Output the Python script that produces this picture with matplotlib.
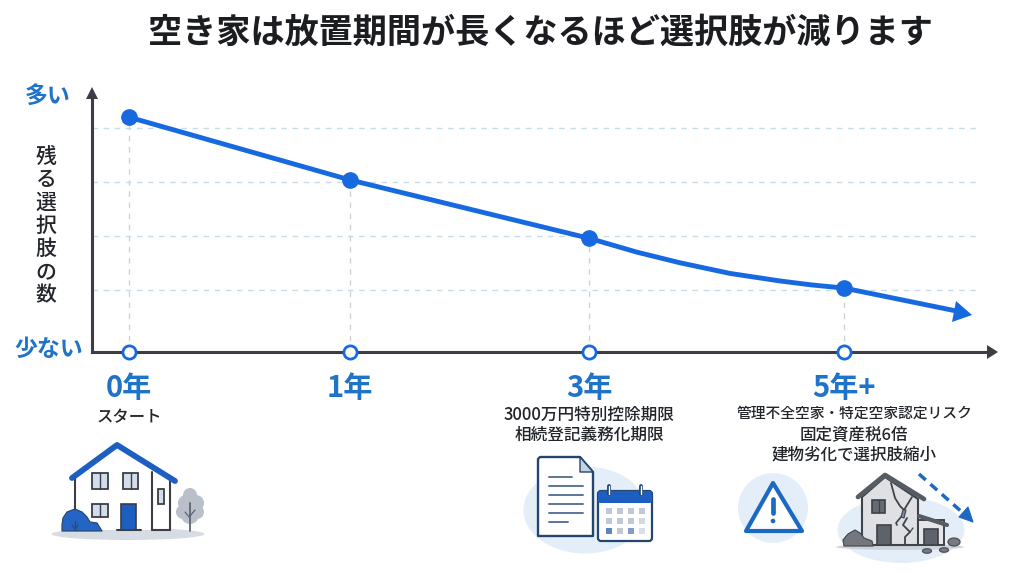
import matplotlib
matplotlib.use("Agg")
import matplotlib.pyplot as plt
from matplotlib.patches import Polygon, Rectangle, Circle, Ellipse, FancyBboxPatch

plt.rcParams['font.family'] = ['Noto Sans CJK JP', 'DejaVu Sans']

# ---------- data ----------
title = "空き家は放置期間が長くなるほど選択肢が減ります"
y_label = "残る選択肢の数"
y_high = "多い"
y_low = "少ない"
tick_labels = ["0年", "1年", "3年", "5年+"]
tick_notes = [["スタート"],
              ["3000万円特別控除期限", "相続登記義務化期限"],
              ["管理不全空家・特定空家認定リスク", "固定資産税6倍", "建物劣化で選択肢縮小"]]
note_ticks = [0, 2, 3]
stage_pos = [37, 258, 497, 752]
stage_val = [99.5, 72.9, 48.2, 27.1]
curve_pos = [37, 258, 497, 545, 588, 638, 688, 720, 752, 863]
curve_val = [99.5, 72.9, 48.2, 42.3, 37.8, 33.3, 30.1, 28.4, 27.1, 17.5]
grid_val = [26.3, 49.2, 72.0, 94.9]

BLUE = "#1769e0"
LBLUE = "#1f73c9"
DARK = "#3b3e44"
INK = "#22252a"
PALE = "#e4eef8"
NAVY = "#2b4a6f"

fig = plt.figure(figsize=(10.24, 5.79), dpi=100, facecolor="white")
W, H = 1024, 579

# ---------- chart axes ----------
ax = fig.add_axes([92/W, 1-352/H, 898/W, 257/H], facecolor="none")
ax.set_xlim(0, 898)
ax.set_ylim(0, 257/2.36)
for s in ("top", "right"):
    ax.spines[s].set_visible(False)
for s in ("left", "bottom"):
    ax.spines[s].set_color(DARK)
    ax.spines[s].set_linewidth(2.2)
ax.set_yticks([])
ax.set_xticks(stage_pos, tick_labels, color=LBLUE, fontsize=21, fontweight="bold")
ax.tick_params(axis="x", length=0, pad=15)

ax.hlines(grid_val, 0, 888, color="#c6dcea", lw=1.0, linestyles=(0, (4, 4)), zorder=1)
ax.vlines(stage_pos, 0, stage_val, color="#cfd3d8", lw=1.0, linestyles=(0, (4, 4)), zorder=1)
ax.plot(curve_pos, curve_val, color=BLUE, lw=3.5, solid_capstyle="butt", solid_joinstyle="round", zorder=3)
ax.plot(stage_pos, stage_val, "o", color=BLUE, ms=11, zorder=4)
ax.plot(stage_pos, [0]*4, "o", mfc="white", mec=BLUE, mew=2, ms=9.5, zorder=4, clip_on=False)

# ---------- overlay in picture units for arrows, text and icons ----------
ov = fig.add_axes([0, 0, 1, 1], facecolor="none")
ov.set_xlim(0, W)
ov.set_ylim(H, 0)
ov.axis("off")

def poly(pts, fc="none", ec="none", lw=0, z=5, **k):
    ov.add_patch(Polygon(pts, closed=True, fc=fc, ec=ec, lw=lw, zorder=z, joinstyle="round", **k))

def rect(x0, y0, x1, y1, fc="none", ec="none", lw=0, z=5):
    ov.add_patch(Rectangle((x0, y0), x1-x0, y1-y0, fc=fc, ec=ec, lw=lw, zorder=z))

def rrect(x0, y0, x1, y1, r=2, fc="none", ec="none", lw=0, z=5):
    ov.add_patch(FancyBboxPatch((x0+r, y0+r), x1-x0-2*r, y1-y0-2*r, boxstyle=f"round,pad={r}",
                                fc=fc, ec=ec, lw=lw, zorder=z))

def line(xs, ys, c, lw, z=6, **k):
    ov.plot(xs, ys, color=c, lw=lw, zorder=z, solid_capstyle=k.pop("cap", "round"), **k)

def circ(x, y, r, fc, ec="none", lw=0, z=5):
    ov.add_patch(Circle((x, y), r, fc=fc, ec=ec, lw=lw, zorder=z))

# axis and curve arrow heads
poly([(92, 87), (86, 99), (98, 99)], fc=DARK)
poly([(998, 352), (987, 345), (987, 359)], fc=DARK)
poly([(972, 315), (956, 301), (952, 322)], fc=BLUE)

# text
ov.text(540, 32, title, ha="center", va="center", fontsize=24.6, fontweight="bold", color="#1b1d20")
ov.text(48, 96, y_high, ha="center", va="center", fontsize=16.5, fontweight="bold", color=LBLUE)
ov.text(49, 349, y_low, ha="center", va="center", fontsize=16.5, fontweight="bold", color=LBLUE)
for i, ch in enumerate(y_label):
    ov.text(46, 157 + i*23.1, ch, ha="center", va="center", fontsize=15, fontweight="medium", color=INK)

note_sizes = [[11.8], [12, 12], [10.6, 11.9, 11.9]]
note_y = [[418], [415, 435], [414, 435, 455]]
note_x = [129, 589, 854]
for k, t in enumerate(note_ticks):
    for s, y, fs in zip(tick_notes[k], note_y[k], note_sizes[k]):
        ov.text(note_x[k], y, s, ha="center", va="center", fontsize=fs, fontweight="medium", color=INK)

# house icon
ov.add_patch(Ellipse((128, 534), 153, 12, fc="#d7dce4", ec="none", zorder=2))
poly([(75, 478), (117, 446), (170, 478), (170, 530), (75, 530)], fc="white", z=3)
line([75, 75], [478, 515], DARK, 1.5, z=4)
line([170, 170], [478, 530], DARK, 1.5, z=4)
line([152, 152], [472, 530], DARK, 1.5, z=4)
line([152, 170], [530, 530], DARK, 1.5, z=4)
line([117, 141], [530, 530], DARK, 1.5, z=4)
line([72, 117, 175], [478, 445, 481], "#1c5fc0", 4.2, z=6, solid_joinstyle="round")
for x0, y0, x1, y1 in [(92, 473, 108, 489), (123, 473, 138, 489), (92, 504, 108, 517)]:
    rect(x0, y0, x1, y1, fc="#d3dcea", ec=DARK, lw=1.3)
    line([(x0+x1)/2]*2, [y0, y1], DARK, 1.0)
rect(158, 489, 164, 504, fc="#d3dcea", ec=DARK, lw=1.3)
rect(121, 504, 136, 530, fc="#1c5fc0", ec=DARK, lw=1.2)
poly([(62, 525), (63, 518), (67, 512), (75, 509), (82, 512), (87, 517), (90, 522), (97, 523), (102, 531), (62, 531)],
     fc="#2464c4", ec=NAVY, lw=0.9)
line([75, 75], [521, 530], NAVY, 0.9)
line([72, 75, 78], [525, 529, 525], NAVY, 0.9)
for cx, cy, r in [(190, 495, 7), (186, 503, 8), (196, 503, 8), (183, 512, 7), (197, 512, 7), (190, 515, 9)]:
    circ(cx, cy, r, "#b9c0c9", z=3)
line([190, 190], [503, 531], "#5d6672", 1.3, z=4)
line([190, 185], [518, 512], "#5d6672", 0.9, z=4)
line([190, 195], [516, 510], "#5d6672", 0.9, z=4)

# document and calendar icon
ov.add_patch(Ellipse((585, 510), 123, 87, fc=PALE, ec="none", zorder=2))
poly([(538, 459), (540, 457), (580, 457), (593, 472), (593, 536), (538, 536)], fc="white", ec="#24466e", lw=1.7, z=4)
poly([(580, 457), (593, 472), (580, 472)], fc="#c5d2e2", ec="#24466e", lw=1.0, z=4)
for y, x1 in zip([477, 486, 495, 504, 513, 522], [572, 583, 583, 583, 583, 568]):
    line([549, x1], [y, y], "#5c7696", 1.4)
rrect(598, 491, 652, 541, r=3, fc="white", ec="#24466e", lw=1.6, z=4)
rrect(598, 491, 652, 503, r=2.5, fc="#1c5fc0", z=5)
for x in [609, 641]:
    line([x, x], [486, 494], "#24466e", 2.8, z=6)
    line([x, x], [486, 494], "white", 1.0, z=7)
cell_c = [["#bfc9d6", "#bfc9d6", "#bfc9d6", "#bfc9d6"],
          ["#bfc9d6", "#bfc9d6", "#bfc9d6", "#d2d9e3"],
          ["#5b85bb", "#bfc9d6", "#7f9dc6", "#d9dfe8"]]
for r, y in enumerate([511, 521, 531]):
    for c, x in enumerate([609, 620, 631, 642]):
        rect(x-3, y-3, x+3, y+3, fc=cell_c[r][c], z=6)

# warning icon
circ(773, 508, 35, PALE, z=2)
poly([(773, 483), (746, 531), (802, 531)], fc="white", ec="#1c69c4", lw=3, z=4)
line([773, 773], [499, 513], "#1c69c4", 3.4)
circ(773, 521, 2.3, "#1c69c4", z=6)

# damaged house icon
ov.add_patch(Ellipse((901, 530), 127, 66, fc=PALE, ec="none", zorder=2))
ov.add_patch(Ellipse((900, 547), 128, 6, fc="#cdd3da", ec="none", zorder=2))
poly([(862, 497), (885, 477), (918, 499), (918, 545), (862, 545)], fc="#dfe0e3", ec="#3f4349", lw=1.5, z=3)
rect(918, 520, 944, 545, fc="#e4e5e8", ec="#3f4349", lw=1.4, z=3)
line([858, 885, 924], [497, 475, 499], "#575c64", 3.4, z=5, solid_joinstyle="round")
line([919, 947], [516, 525], "#575c64", 3.0, z=5)
rect(872, 500, 885, 513, fc="#666b73", ec="#3d4148", lw=1.2)
line([878.5, 878.5], [500, 513], "#3d4148", 0.9)
rect(877, 525, 891, 545, fc="#5e636b", ec="#3d4148", lw=1.2)
rect(924, 529, 938, 545, fc="#5e636b", ec="#3d4148", lw=1.2)
line([891, 895, 900, 904], [483, 498, 506, 510], "#3f4349", 1.3, z=6)
line([912, 904], [497, 510], "#3f4349", 1.3, z=6)
poly([(903, 510), (906, 510), (904, 518), (901, 517)], fc="#7d8da0", ec="#3f4349", lw=0.8, z=6)
line([901, 896, 897], [517, 523, 525], "#3f4349", 1.2, z=6)
line([907, 903, 910, 905, 905], [518, 525, 532, 537, 545], "#3f4349", 1.3, z=6)
line([910, 913], [532, 528], "#3f4349", 0.9, z=6)
poly([(844, 546), (843, 540), (848, 534), (855, 530), (860, 533), (864, 538), (872, 541), (873, 546)],
     fc="#74787e", ec="#494d53", lw=0.9, z=4)
for cx, cy, w, h in [(954, 542, 12, 8), (927, 551, 9, 4.5), (944, 550, 9, 4.5)]:
    ov.add_patch(Ellipse((cx, cy), w, h, fc="#777b81", ec="#4e5258", lw=0.9, zorder=4))
line([919, 963], [474, 513], "#1c69c4", 2.5, z=6, linestyle=(0, (2.6, 1.8)), dash_capstyle="butt")
poly([(973, 522), (959, 517), (968, 507)], fc="#1c69c4", ec="#1c69c4", lw=0.8, z=6)

fig.savefig("out.png", dpi=100, facecolor="white")
